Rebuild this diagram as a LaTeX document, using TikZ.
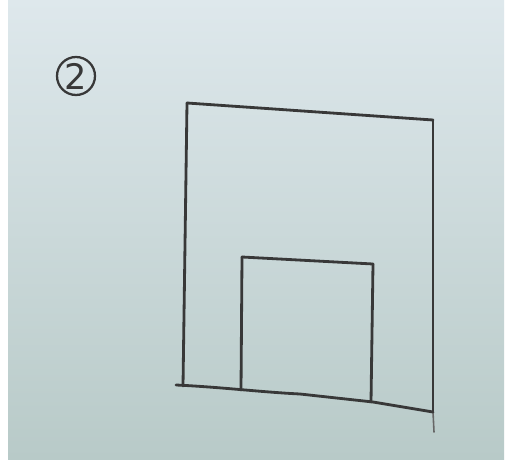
\documentclass[tikz,border=0pt]{standalone}
\usepackage{fontspec}
\setmainfont{DejaVu Sans}
\begin{document}
\begin{tikzpicture}[x=0.02cm,y=-0.02cm,
  pen/.style={draw=black!78, line width=1.6pt, line cap=round, line join=round},
  thinpen/.style={draw=black!60, line width=0.9pt, line cap=round}]
\useasboundingbox (0,0) rectangle (506,459);
\fill[white] (0,0) rectangle (506,459);
\shade[top color={rgb,255:red,222;green,232;blue,236}, bottom color={rgb,255:red,184;green,202;blue,200}] (8,0) rectangle (504,459);
% circled 2
\node[circle, draw=black!78, line width=1.3pt, minimum size=38*0.02cm, inner sep=0pt, font=\fontsize{20}{20}\selectfont, text=black!78] (num) at (76,76) {2};
% outer square
\coordinate (otl) at (187,103);
\coordinate (otr) at (433,120);
\coordinate (obl) at (183,386);
\coordinate (obr) at (433,412);
\coordinate (otail) at (434,432);
\draw[pen] (otl) -- (otr);
\draw[pen] (otl) -- (obl);
\draw[pen] (otr) -- (obr);
\draw[thinpen] (obr) -- (otail);
\draw[pen] (176,385) .. controls (220,387) and (260,392) .. (300,394) -- (373,402) -- (obr);
% inner square
\coordinate (itl) at (242,257);
\coordinate (itr) at (373,264);
\coordinate (ibl) at (241,390);
\coordinate (ibr) at (371,402);
\draw[pen] (itl) -- (itr);
\draw[pen] (itl) -- (ibl);
\draw[pen] (itr) -- (ibr);
\end{tikzpicture}
\end{document}
